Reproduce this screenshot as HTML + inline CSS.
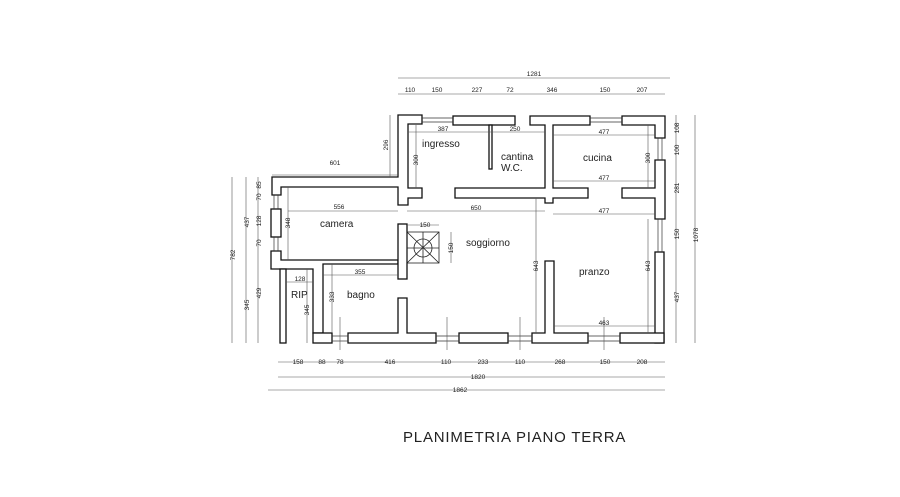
<!DOCTYPE html>
<html><head><meta charset="utf-8"><style>
html,body{margin:0;padding:0;background:#fff;}
svg{display:block;}
text{font-family:"Liberation Sans",sans-serif;fill:#222;}
.d{font-size:6.5px;}
.r{font-size:10px;}
</style></head><body>
<svg width="900" height="497" viewBox="0 0 900 497" xmlns="http://www.w3.org/2000/svg">
<rect width="900" height="497" fill="#fff"/>
<g fill="#fff" stroke="#111" stroke-width="1.3">
<!-- ingresso left wall + camera top wall -->
<polygon points="398,115 422,115 422,124 408,124 408,188 422,188 422,198 408,198 408,205 398,205 398,187 281,187 281,195 272,195 272,177 398,177"/>
<!-- cantina top -->
<rect x="453" y="116" width="62" height="9"/>
<!-- cucina top T -->
<polygon points="530,116 590,116 590,125 553,125 553,188 588,188 588,198 553,198 553,203 545,203 545,198 455,198 455,188 545,188 545,125 530,125"/>
<!-- cantina partition -->
<rect x="489" y="125" width="3" height="44"/>
<!-- kitchen top right L -->
<polygon points="622,116 665,116 665,138 655,138 655,125 622,125"/>
<!-- right middle T -->
<polygon points="655,160 665,160 665,219 655,219 655,198 622,198 622,188 655,188"/>
<!-- right lower -->
<rect x="655" y="252" width="9" height="91"/>
<!-- camera left window piece -->
<rect x="271" y="209" width="10" height="28"/>
<!-- lower left piece + camera/bagno wall -->
<polygon points="271,251 281,251 281,260 398,260 398,264 323,264 323,333 313,333 313,269 271,269"/>
<!-- RIP left wall -->
<rect x="280" y="269" width="6" height="74"/>
<!-- bottom walls -->
<rect x="313" y="333" width="19" height="10"/>
<polygon points="348,333 398,333 398,298 407,298 407,333 436,333 436,343 348,343"/>
<rect x="459" y="333" width="49" height="10"/>
<polygon points="532,333 545,333 545,261 554,261 554,333 588,333 588,343 532,343"/>
<rect x="620" y="333" width="44" height="10"/>
<!-- stair column -->
<rect x="398" y="224" width="9" height="55"/>
</g>
<!-- windows glass lines -->
<g stroke="#333" stroke-width="0.7">
<line x1="332" y1="336" x2="348" y2="336"/><line x1="332" y1="341" x2="348" y2="341"/>
<line x1="436" y1="336" x2="459" y2="336"/><line x1="436" y1="341" x2="459" y2="341"/>
<line x1="508" y1="336" x2="532" y2="336"/><line x1="508" y1="341" x2="532" y2="341"/>
<line x1="588" y1="336" x2="620" y2="336"/><line x1="588" y1="341" x2="620" y2="341"/>
<line x1="658" y1="219" x2="658" y2="252"/><line x1="662" y1="219" x2="662" y2="252"/>
<line x1="658" y1="138" x2="658" y2="160"/><line x1="662" y1="138" x2="662" y2="160"/>
<line x1="274" y1="195" x2="274" y2="209"/><line x1="278" y1="195" x2="278" y2="209"/>
<line x1="274" y1="237" x2="274" y2="251"/><line x1="278" y1="237" x2="278" y2="251"/>
<line x1="422" y1="118" x2="453" y2="118"/><line x1="422" y1="122" x2="453" y2="122"/>
<line x1="590" y1="118" x2="622" y2="118"/><line x1="590" y1="122" x2="622" y2="122"/>
</g>
<!-- stair -->
<g stroke="#222" stroke-width="0.8" fill="none">
<rect x="407" y="232" width="32" height="31"/>
<line x1="407" y1="232" x2="439" y2="263"/><line x1="439" y1="232" x2="407" y2="263"/>
<circle cx="423" cy="248" r="9"/><line x1="407" y1="248" x2="439" y2="248"/><line x1="423" y1="232" x2="423" y2="263"/>
</g>
<!-- dimension lines -->
<g stroke="#555" stroke-width="0.6">
<line x1="398" y1="78" x2="670" y2="78"/>
<line x1="398" y1="94" x2="665" y2="94"/>
<line x1="676" y1="115" x2="676" y2="343"/>
<line x1="695" y1="115" x2="695" y2="343"/>
<line x1="232" y1="177" x2="232" y2="343"/>
<line x1="246" y1="177" x2="246" y2="343"/>
<line x1="258" y1="177" x2="258" y2="343"/>
<line x1="278" y1="362" x2="665" y2="362"/>
<line x1="278" y1="377" x2="665" y2="377"/>
<line x1="268" y1="390" x2="665" y2="390"/>
<line x1="272" y1="175" x2="398" y2="175"/>
<line x1="390" y1="115" x2="390" y2="177"/>
<line x1="408" y1="132" x2="545" y2="132"/>
<line x1="416" y1="125" x2="416" y2="188"/>
<line x1="553" y1="135" x2="655" y2="135"/>
<line x1="553" y1="181" x2="655" y2="181"/>
<line x1="553" y1="214" x2="655" y2="214"/>
<line x1="648" y1="125" x2="648" y2="188"/>
<line x1="288" y1="211" x2="398" y2="211"/>
<line x1="407" y1="211" x2="545" y2="211"/>
<line x1="288" y1="187" x2="288" y2="260"/>
<line x1="407" y1="225" x2="439" y2="225"/>
<line x1="451" y1="232" x2="451" y2="263"/>
<line x1="323" y1="275" x2="398" y2="275"/>
<line x1="536" y1="198" x2="536" y2="333"/>
<line x1="648" y1="219" x2="648" y2="333"/>
<line x1="286" y1="282" x2="313" y2="282"/>
<line x1="332" y1="264" x2="332" y2="333"/>
<line x1="307" y1="269" x2="307" y2="343"/>
<line x1="554" y1="326" x2="655" y2="326"/>
<line x1="340" y1="317" x2="340" y2="350"/>
<line x1="447" y1="317" x2="447" y2="350"/>
<line x1="520" y1="317" x2="520" y2="350"/>
<line x1="604" y1="317" x2="604" y2="350"/>
</g>
<g class="d" text-anchor="middle">
<text x="534" y="76">1281</text>
<text x="410" y="92">110</text><text x="437" y="92">150</text><text x="477" y="92">227</text><text x="510" y="92">72</text><text x="552" y="92">346</text><text x="605" y="92">150</text><text x="642" y="92">207</text>
<text x="298" y="364">158</text><text x="322" y="364">88</text><text x="340" y="364">78</text><text x="390" y="364">416</text><text x="446" y="364">110</text><text x="483" y="364">233</text><text x="520" y="364">110</text><text x="560" y="364">268</text><text x="605" y="364">150</text><text x="642" y="364">208</text>
<text x="478" y="379">1820</text><text x="460" y="392">1862</text>
<text x="335" y="165">601</text><text x="443" y="131">387</text><text x="515" y="131">250</text>
<text x="604" y="134">477</text><text x="604" y="180">477</text><text x="604" y="213">477</text>
<text x="339" y="209">556</text><text x="476" y="210">650</text><text x="425" y="227">150</text>
<text x="360" y="274">355</text><text x="300" y="281">128</text><text x="604" y="325">463</text>
</g>
<g class="d" text-anchor="middle">
<text transform="translate(388,145) rotate(-90)">296</text>
<text transform="translate(418,160) rotate(-90)">300</text>
<text transform="translate(650,158) rotate(-90)">300</text>
<text transform="translate(290,223) rotate(-90)">348</text>
<text transform="translate(453,248) rotate(-90)">150</text>
<text transform="translate(538,266) rotate(-90)">643</text>
<text transform="translate(650,266) rotate(-90)">643</text>
<text transform="translate(334,297) rotate(-90)">333</text>
<text transform="translate(309,310) rotate(-90)">345</text>
<text transform="translate(679,128) rotate(-90)">108</text>
<text transform="translate(679,150) rotate(-90)">100</text>
<text transform="translate(679,188) rotate(-90)">281</text>
<text transform="translate(679,234) rotate(-90)">150</text>
<text transform="translate(679,297) rotate(-90)">437</text>
<text transform="translate(698,235) rotate(-90)">1078</text>
<text transform="translate(235,255) rotate(-90)">782</text>
<text transform="translate(249,222) rotate(-90)">437</text>
<text transform="translate(249,305) rotate(-90)">345</text>
<text transform="translate(261,185) rotate(-90)">85</text>
<text transform="translate(261,197) rotate(-90)">70</text>
<text transform="translate(261,221) rotate(-90)">128</text>
<text transform="translate(261,243) rotate(-90)">70</text>
<text transform="translate(261,293) rotate(-90)">429</text>
</g>
<g class="r">
<text x="422" y="147">ingresso</text>
<text x="501" y="160">cantina</text>
<text x="501" y="171">W.C.</text>
<text x="583" y="161">cucina</text>
<text x="320" y="227">camera</text>
<text x="466" y="246">soggiorno</text>
<text x="579" y="275">pranzo</text>
<text x="291" y="298">RIP</text>
<text x="347" y="298">bagno</text>
</g>
<text x="403" y="442" font-size="15" letter-spacing="0.8" fill="#333">PLANIMETRIA PIANO TERRA</text>
</svg>
</body></html>
